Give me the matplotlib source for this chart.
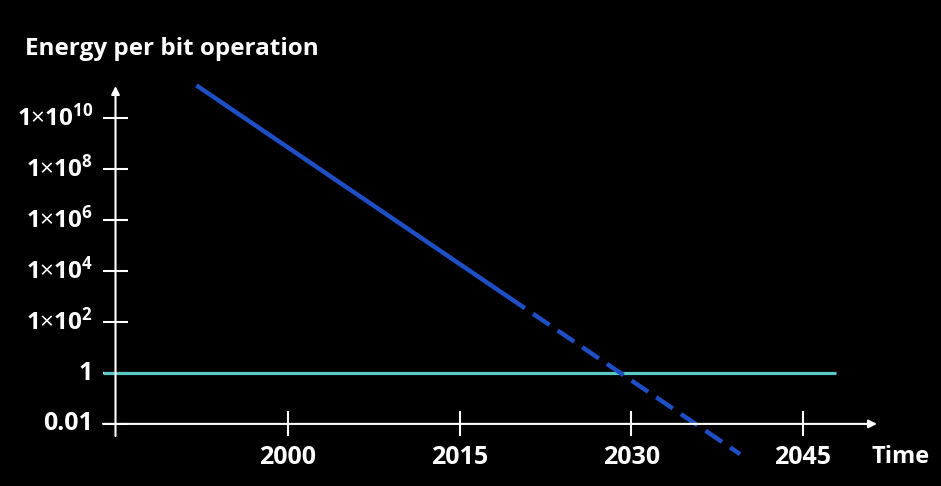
import matplotlib
matplotlib.use("Agg")
import matplotlib.pyplot as plt
import numpy as np

plt.rcParams['font.family'] = ['Open Sans', 'DejaVu Sans']
plt.rcParams['mathtext.fontset'] = 'custom'
plt.rcParams['mathtext.rm'] = 'Open Sans'
plt.rcParams['mathtext.bf'] = 'Open Sans:bold'
plt.rcParams['mathtext.it'] = 'Open Sans:italic'

# ---- data ----
years_solid = [1992, 2020.7]
energy_solid = [2.0e11, 3.5e2]
years_dashed = [2020.7, 2039.5]
energy_dashed = [3.5e2, 6.5e-4]
landauer_years = [1983.84, 2047.9]
landauer_energy = [1.0, 1.0]

x_ticks = [2000, 2015, 2030, 2045]
x_tick_labels = ["2000", "2015", "2030", "2045"]
y_ticks = [1e-2, 1, 1e2, 1e4, 1e6, 1e8, 1e10]
y_tick_labels = ["0.01", "1",
                 r"$\mathbf{1}{\times}\mathbf{10}^{\mathbf{2}}$",
                 r"$\mathbf{1}{\times}\mathbf{10}^{\mathbf{4}}$",
                 r"$\mathbf{1}{\times}\mathbf{10}^{\mathbf{6}}$",
                 r"$\mathbf{1}{\times}\mathbf{10}^{\mathbf{8}}$",
                 r"$\mathbf{1}{\times}\mathbf{10}^{\mathbf{10}}$"]

BLUE = "#1f4fc4"
CYAN = "#5cc8c8"
WHITE = "white"

fig = plt.figure(figsize=(9.41, 4.86), dpi=100, facecolor="black")
ax = fig.add_axes([0, 0, 1, 1])
ax.set_facecolor("black")
ax.set_yscale("log")
px_per_year = 515 / 45.0
px_per_dec = 25.45
x0 = 2000 - 288 / px_per_year
x1 = 2000 + (941 - 288) / px_per_year
ax.set_xlim(x0, x1)
ax.set_ylim(10 ** (-(486 - 373) / px_per_dec), 10 ** (373 / px_per_dec))
ax.axis("off")

def yr(px):
    return 2000 + (px - 288) / px_per_year

def val(py):
    return 10 ** ((373 - py) / px_per_dec)

# axes
yaxis_x = yr(115.5)
xaxis_y = 1e-2
ax.annotate("", xy=(yaxis_x, val(86)), xytext=(yaxis_x, val(436)),
            arrowprops=dict(arrowstyle="-|>", color=WHITE, lw=1.5,
                            mutation_scale=12, shrinkA=0, shrinkB=0))
ax.annotate("", xy=(yr(877), xaxis_y), xytext=(yr(103), xaxis_y),
            arrowprops=dict(arrowstyle="-|>", color=WHITE, lw=1.5,
                            mutation_scale=12, shrinkA=0, shrinkB=0))

# y ticks
for v, lab in zip(y_ticks, y_tick_labels):
    ax.plot([yr(103), yr(128)], [v, v], color=WHITE, lw=1.5, solid_capstyle="butt")
    fs = 18 if lab.startswith("$") is False else 17.5
    ax.text(yr(93), v, lab, color=WHITE, fontsize=fs, fontweight="bold",
            ha="right", va="center")

# x ticks
for x, lab in zip(x_ticks, x_tick_labels):
    ax.plot([x, x], [val(411), val(436)], color=WHITE, lw=1.5, solid_capstyle="butt")
    ax.text(x, val(457), lab, color=WHITE, fontsize=18, fontweight="bold",
            ha="center", va="center")

# lines
ax.plot(landauer_years, landauer_energy, color=CYAN, lw=2.3, solid_capstyle="butt")
ax.plot(years_solid, energy_solid, color=BLUE, lw=3.2, solid_capstyle="butt")
ax.plot(years_dashed, energy_dashed, color=BLUE, lw=3.2,
        linestyle=(4.5, (4.5, 2.2)), dash_capstyle="butt")

# labels
fig.text(25 / 941, 1 - 49 / 486, "Energy per bit operation", color=WHITE,
         fontsize=17.5, fontweight="bold", ha="left", va="center")
fig.text(872 / 941, 1 - 457 / 486, "Time", color=WHITE,
         fontsize=17, fontweight="bold", ha="left", va="center")

fig.savefig("out.png", dpi=100, facecolor="black")
